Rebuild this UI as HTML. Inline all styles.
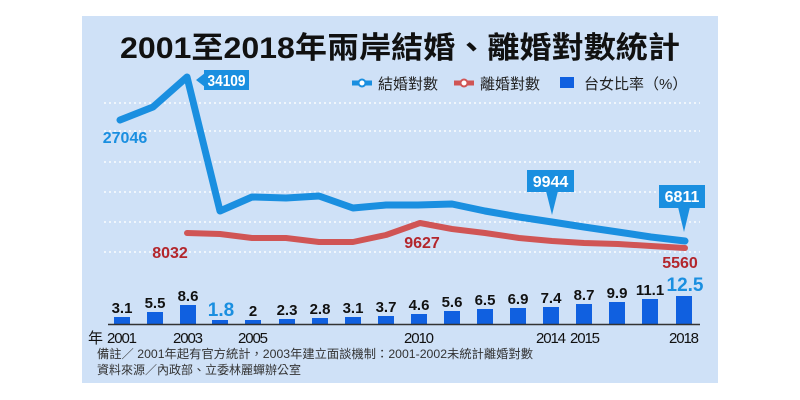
<!DOCTYPE html>
<html><head><meta charset="utf-8"><style>
body{margin:0;width:800px;height:400px;background:#fff;overflow:hidden}
svg{display:block}
text{font-family:"Liberation Sans","Noto Sans CJK TC",sans-serif}
</style></head><body>
<svg width="800" height="400" viewBox="0 0 800 400">
<rect x="82" y="16" width="636" height="367" fill="#cfe1f7"/>
<text x="400" y="58" text-anchor="middle" font-size="30" font-weight="bold" fill="#111" textLength="560" lengthAdjust="spacingAndGlyphs">2001至2018年兩岸結婚、離婚對數統計</text>
<line x1="352" y1="83" x2="372" y2="83" stroke="#1a8fe0" stroke-width="5"/><circle cx="362" cy="83" r="3.5" fill="#fff" stroke="#1a8fe0" stroke-width="2"/>
<text x="378" y="89" font-size="15" fill="#222">結婚對數</text>
<line x1="454" y1="83" x2="474" y2="83" stroke="#d05555" stroke-width="5"/><circle cx="464" cy="83" r="3.5" fill="#fff" stroke="#d05555" stroke-width="2"/>
<text x="480" y="89" font-size="15" fill="#222">離婚對數</text>
<rect x="560" y="77" width="14" height="11" fill="#1060e0"/>
<text x="584" y="89" font-size="15" fill="#222">台女比率（%）</text>
<g stroke="#fff" stroke-width="1.5" stroke-dasharray="2,3" opacity="0.9">
<line x1="104" y1="103" x2="700" y2="103"/><line x1="104" y1="131" x2="700" y2="131"/>
<line x1="104" y1="162" x2="700" y2="162"/><line x1="104" y1="192" x2="700" y2="192"/>
<line x1="104" y1="222" x2="700" y2="222"/><line x1="104" y1="252" x2="700" y2="252"/>
</g>
<polyline fill="none" stroke="#d05555" stroke-width="6" stroke-linejoin="round" stroke-linecap="round" points="187,233 220,234 252,238 286,238 319,242 353,242 386,235 420,223 452,229 485,233 519,238 552,241 584,243 618,244 651,246 685,248"/>
<polyline fill="none" stroke="#1a8fe0" stroke-width="7" stroke-linejoin="round" stroke-linecap="round" points="120,120 153,107 187,77 220,211 252,197 286,198 319,196 353,208 386,205 418,205 452,204 485,211 519,217 552,222 584,227 618,232 651,237 685,241"/>
<polygon points="196,80 205,73 205,87" fill="#1a8fe0"/>
<rect x="204" y="70" width="45" height="20" fill="#1a8fe0"/>
<text x="226.5" y="86" text-anchor="middle" font-size="16" font-weight="bold" fill="#fff" textLength="38" lengthAdjust="spacingAndGlyphs">34109</text>
<rect x="527" y="170" width="47" height="22" fill="#1a8fe0"/>
<polygon points="546,191 558,191 552,215" fill="#1a8fe0"/>
<text x="550.5" y="187" text-anchor="middle" font-size="16" font-weight="bold" fill="#fff">9944</text>
<rect x="659" y="185" width="46" height="23" fill="#1a8fe0"/>
<polygon points="678,207 690,207 684,232" fill="#1a8fe0"/>
<text x="682" y="202" text-anchor="middle" font-size="16" font-weight="bold" fill="#fff">6811</text>
<g font-size="16" font-weight="bold">
<text x="125" y="143" text-anchor="middle" fill="#1a8fe0">27046</text>
<text x="170" y="258" text-anchor="middle" fill="#b3262c">8032</text>
<text x="422" y="248" text-anchor="middle" fill="#b3262c">9627</text>
<text x="680" y="268" text-anchor="middle" fill="#b3262c">5560</text>
</g>
<g fill="#1060e0">
<rect x="114" y="317" width="16" height="7"/><rect x="147" y="312" width="16" height="12"/>
<rect x="180" y="305" width="16" height="19"/><rect x="212" y="320" width="16" height="4"/>
<rect x="245" y="320" width="16" height="4"/><rect x="279" y="319" width="16" height="5"/>
<rect x="312" y="318" width="16" height="6"/><rect x="345" y="317" width="16" height="7"/>
<rect x="378" y="316" width="16" height="8"/><rect x="411" y="314" width="16" height="10"/>
<rect x="444" y="311" width="16" height="13"/><rect x="477" y="309" width="16" height="15"/>
<rect x="510" y="308" width="16" height="16"/><rect x="543" y="307" width="16" height="17"/>
<rect x="576" y="304" width="16" height="20"/><rect x="609" y="302" width="16" height="22"/>
<rect x="642" y="299" width="16" height="25"/><rect x="676" y="296" width="16" height="28"/>
</g>
<line x1="108" y1="324.5" x2="700" y2="324.5" stroke="#333" stroke-width="1.5"/>
<g font-size="15" font-weight="bold" fill="#111" text-anchor="middle">
<text x="122" y="313">3.1</text><text x="155" y="308">5.5</text><text x="188" y="301">8.6</text>
<text x="253" y="316">2</text><text x="287" y="315">2.3</text><text x="320" y="314">2.8</text>
<text x="353" y="313">3.1</text><text x="386" y="312">3.7</text><text x="419" y="310">4.6</text>
<text x="452" y="307">5.6</text><text x="485" y="305">6.5</text><text x="518" y="304">6.9</text>
<text x="551" y="303">7.4</text><text x="584" y="300">8.7</text><text x="617" y="298">9.9</text>
<text x="650" y="295">11.1</text>
<text x="221" y="316" font-size="19" fill="#1a8fe0">1.8</text>
<text x="685" y="291" font-size="19" fill="#1a8fe0">12.5</text>
</g>
<g font-size="15" fill="#111">
<text x="88" y="343">年</text>
<g text-anchor="middle" lengthAdjust="spacingAndGlyphs">
<text x="122" y="343" textLength="30">2001</text><text x="188" y="343" textLength="30">2003</text>
<text x="253" y="343" textLength="30">2005</text><text x="419" y="343" textLength="30">2010</text>
<text x="551" y="343" textLength="30">2014</text><text x="585" y="343" textLength="30">2015</text>
<text x="684" y="343" textLength="30">2018</text>
</g>
</g>
<g font-size="12" fill="#333">
<text x="97" y="358" textLength="436" lengthAdjust="spacingAndGlyphs">備註／ 2001年起有官方統計，2003年建立面談機制：2001-2002未統計離婚對數</text>
<text x="97" y="374">資料來源／內政部、立委林麗蟬辦公室</text>
</g>
</svg>
</body></html>
